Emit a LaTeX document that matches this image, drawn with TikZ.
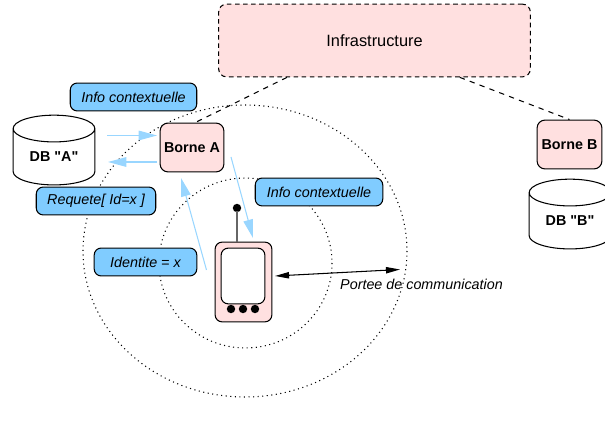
\documentclass[tikz,border=0pt]{standalone}
\usepackage{fontspec}
\setmainfont{Liberation Sans}[Ligatures=TeXOff]
\usetikzlibrary{arrows.meta,calc,positioning,shapes.geometric}

\definecolor{borne}{RGB}{255,224,224}
\definecolor{bubble}{RGB}{128,204,255}
\definecolor{flow}{RGB}{153,214,255}

\begin{document}
\begin{tikzpicture}[x=0.02cm,y=-0.02cm,line width=0.6pt,font=\fontsize{8.16}{10}\selectfont]
\clip (0,0) rectangle (605,425);
\useasboundingbox (0,0) rectangle (605,425);

    \tikzstyle{station}=[draw,fill=borne,rounded corners=4.5pt,inner sep=0pt,font=\fontsize{8.16}{10}\selectfont\bfseries];
    \tikzstyle{infra}=[draw,dash pattern=on 2.6pt off 2pt,fill=borne,rounded corners=4.5pt,inner sep=0pt,minimum width=177.4pt,minimum height=41.4pt,font=\fontsize{9.3}{11}\selectfont];
    \tikzstyle{message}=[draw,fill=bubble,rounded corners=4pt,inner sep=0pt,minimum height=15.9pt,font=\fontsize{8.16}{10}\selectfont\itshape];
    \tikzstyle{database}=[draw,fill=white,cylinder,shape border rotate=90,aspect=0.55,inner sep=0pt,minimum width=46.5pt,minimum height=39.7pt,font=\fontsize{8.16}{10}\selectfont\bfseries];
    \tikzstyle{flowline}=[draw=flow,-{Triangle[length=10.5pt,width=5.5pt]}];

% portee radio
\draw[dotted] (245,251) ellipse [x radius=162,y radius=146];
\draw[dotted] (245.5,263) ellipse [x radius=86.5,y radius=85];

% infrastructure et bornes
\node[infra] (infrastructure) at (374.5,40.5) {Infrastructure};
\node[station,minimum width=36.3pt,minimum height=27.8pt] (borneA) at (192,147.5) {Borne A};
\node[station,minimum width=36.9pt,minimum height=27.8pt] (borneB) at (569.5,144.5) {Borne B};
\draw[dashed] ($(infrastructure.south west)!0.22!(infrastructure.south east)$) -- ($(borneA.north west)!0.55!(borneA.north east)$);
\draw[dashed] ($(infrastructure.south west)!0.773!(infrastructure.south east)$) -- (borneB.north);

% bases
\node[database] (dbA) at (54,157) {\raisebox{-2.7pt}{DB "A"}};
\node[database] (dbB) at (570,221) {\raisebox{-2.7pt}{DB "B"}};

% terminal
\node[circle,fill=black,minimum size=4.8pt,inner sep=0pt] (antenna) at (237,208) {};
\node[draw,fill=borne,rounded corners=4pt,minimum width=32.3pt,minimum height=45.4pt,inner sep=0pt] (phone) at (243.5,282) {};
\node[draw,fill=white,rounded corners=4pt,minimum width=24.9pt,minimum height=31.7pt,inner sep=0pt] (screen) at (243,276) {};
\foreach \name/\xpos in {left/231,middle/243,right/255}
    \node[circle,fill=black,minimum size=4.8pt,inner sep=0pt] (button\name) at (\xpos,309) {};
\draw[draw=black!60,line width=0.9pt,shorten <=-1pt] (antenna) -- (antenna |- phone.north);

% messages
\node[message,minimum width=72pt] (infoTop) at (133.5,97) {Info contextuelle};
\node[message,minimum width=68pt] (requete) at (96,201) {Requete[ Id=x ]};
\node[message,minimum width=72.6pt] (infoBorne) at (319,192) {Info contextuelle};
\node[message,minimum width=58.4pt] (identite) at (145.5,262) {Identite = x};

% echanges
\coordinate (dbOut) at (107,135.5);
\coordinate (borneIn) at (157,135.5);
\coordinate (borneOut) at (157,162);
\coordinate (dbIn) at (108,162);
\coordinate (phoneOut) at (206.5,270);
\coordinate (borneUp) at (181,178);
\coordinate (borneDown) at (231,157);
\coordinate (phoneIn) at (253,238);
\draw[flowline] (dbOut) -- (borneIn);
\draw[flowline] (borneOut) -- (dbIn);
\draw[flowline] (phoneOut) -- (borneUp);
\draw[flowline] (borneDown) -- (phoneIn);

% portee
\node[font=\fontsize{8.16}{10}\selectfont\itshape,inner sep=0pt] (portee) at (421.5,284) {Portee de communication};
\coordinate (rangeStart) at (275,276);
\coordinate (rangeEnd) at (400,269.5);
\draw[{Triangle[length=8pt,width=3.6pt]}-{Triangle[length=8pt,width=3.6pt]}] (rangeStart) -- (rangeEnd);
\end{tikzpicture}
\end{document}
